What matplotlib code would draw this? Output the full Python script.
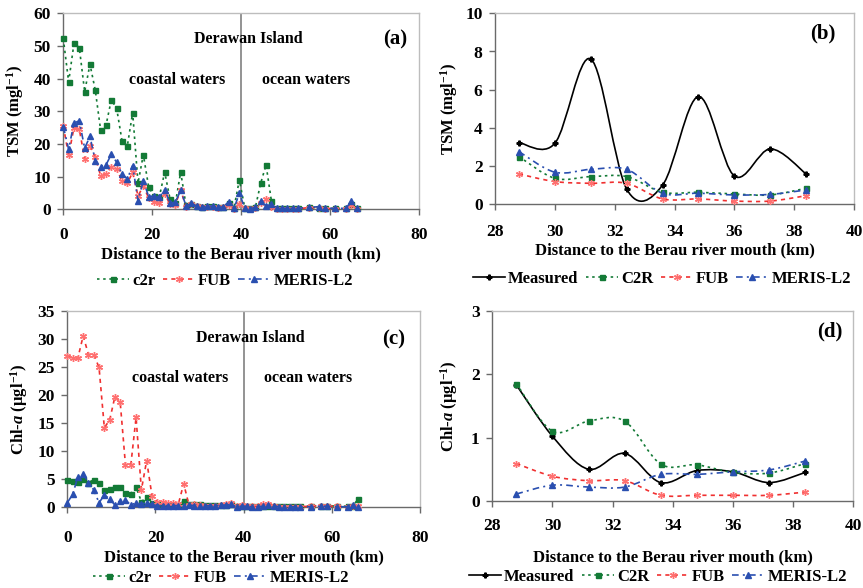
import matplotlib
matplotlib.use("Agg")
import matplotlib.pyplot as plt
from matplotlib.path import Path
from matplotlib.patches import PathPatch
from matplotlib.lines import Line2D

plt.rcParams['font.family'] = ['Liberation Serif', 'DejaVu Serif']
plt.rcParams['font.weight'] = 'bold'
plt.rcParams['mathtext.fontset'] = 'custom'
plt.rcParams['mathtext.rm'] = 'Liberation Serif:bold'
plt.rcParams['mathtext.it'] = 'Liberation Serif:italic:bold'
plt.rcParams['mathtext.bf'] = 'Liberation Serif:bold'

# ---------------- data: transect (panels a, c) ----------------
dist = [0.0, 1.2, 2.4, 3.6, 4.8, 6.0, 7.2, 8.4, 9.6, 10.8, 12.0, 13.2, 14.4, 15.6,
        16.8, 18.0, 19.2, 20.4, 21.6, 22.8, 24.0, 25.2, 26.4, 27.6, 28.8, 30.0,
        31.2, 32.4, 33.6, 34.8, 36.0, 37.2, 38.4, 39.6, 40.8, 42.0, 43.2, 44.4,
        45.6, 46.8, 48.0, 49.2, 50.4, 51.6, 52.8, 55.2, 57.6, 58.8, 61.2, 63.6,
        64.8, 66.0]

tsm_c2r = [52.3, 39.0, 50.8, 49.5, 36.0, 44.4, 36.4, 24.2, 25.7, 33.5, 30.9, 21.0,
           19.4, 29.6, 8.0, 16.7, 6.8, 4.0, 3.8, 11.4, 3.2, 1.8, 11.4, 1.2, 1.5,
           1.0, 0.8, 0.9, 1.0, 0.7, 0.8, 1.8, 0.5, 9.0, 0.5, 0.3, 0.6, 8.0, 13.6,
           2.6, 0.3, 0.3, 0.3, 0.3, 0.3, 0.6, 0.5, 0.3, 0.3, 0.3, 1.5, 0.3]
tsm_fub = [25.5, 16.5, 25.0, 24.5, 15.5, 19.5, 15.9, 10.3, 10.8, 13.0, 12.4, 8.7,
           8.0, 11.3, 4.1, 7.1, 3.5, 2.2, 2.0, 4.7, 1.6, 1.4, 5.9, 0.8, 1.5, 1.0,
           0.6, 0.6, 0.8, 0.4, 0.6, 1.4, 0.2, 1.6, 0.3, 0.2, 0.4, 2.0, 3.2, 0.8,
           0.2, 0.2, 0.2, 0.2, 0.2, 0.5, 0.4, 0.2, 0.2, 0.2, 1.3, 0.2]
tsm_meris = [25.3, 18.4, 26.4, 27.1, 18.7, 22.3, 14.8, 13.1, 13.6, 16.8, 14.4, 10.8,
             9.3, 13.4, 2.6, 8.7, 3.9, 4.1, 3.7, 6.0, 1.9, 2.2, 5.8, 1.1, 1.8, 1.0,
             0.8, 1.0, 1.0, 0.6, 0.8, 2.3, 0.3, 4.9, 0.4, 0.2, 0.6, 2.4, 1.1, 1.5,
             0.3, 0.3, 0.3, 0.3, 0.3, 0.6, 0.8, 0.3, 0.3, 0.3, 2.6, 0.3]

chl_c2r = [4.8, 4.6, 4.5, 5.0, 4.4, 4.9, 4.3, 3.1, 3.3, 3.7, 3.7, 2.5, 2.4, 3.6,
           1.0, 1.8, 0.8, 0.5, 0.4, 0.4, 0.4, 0.4, 1.2, 0.5, 0.5, 0.5, 0.4, 0.4,
           0.4, 0.4, 0.4, 0.5, 0.3, 0.3, 0.3, 0.2, 0.2, 0.3, 0.3, 0.3, 0.2, 0.2,
           0.2, 0.2, 0.2, 0.2, 0.3, 0.3, 0.2, 0.2, 0.3, 1.5]
chl_fub = [26.9, 26.6, 26.6, 30.5, 27.2, 27.2, 24.9, 14.2, 15.5, 19.7, 18.7, 7.5,
           7.5, 16.0, 3.1, 8.3, 2.1, 1.0, 0.9, 0.8, 0.7, 0.6, 4.2, 0.4, 0.5, 0.4,
           0.3, 0.3, 0.3, 0.4, 0.5, 0.8, 0.2, 0.4, 0.3, 0.2, 0.2, 0.5, 0.6, 0.3,
           0.1, 0.1, 0.1, 0.1, 0.1, 0.2, 0.3, 0.2, 0.2, 0.1, 0.3, 0.2]
chl_meris = [0.8, 2.3, 5.4, 5.9, 4.4, 3.1, 0.8, 2.2, 1.5, 0.4, 1.2, 1.3, 0.4, 0.8,
             0.6, 0.8, 0.5, 0.3, 0.3, 0.3, 0.3, 0.3, 0.3, 0.4, 0.3, 0.3, 0.3, 0.3,
             0.3, 0.4, 0.4, 0.5, 0.1, 0.2, 0.2, 0.1, 0.1, 0.2, 0.4, 0.3, 0.1, 0.1,
             0.1, 0.1, 0.1, 0.1, 0.2, 0.2, 0.1, 0.1, 0.4, 0.1]

# ---------------- data: stations (panels b, d) ----------------
st_dist = [28.8, 30.0, 31.2, 32.4, 33.6, 34.8, 36.0, 37.2, 38.4]
tsm_meas = [3.23, 3.19, 7.61, 0.80, 1.00, 5.64, 1.48, 2.90, 1.59]
tsm_st_c2r = [2.50, 1.36, 1.45, 1.45, 0.63, 0.63, 0.54, 0.49, 0.84]
tsm_st_fub = [1.59, 1.19, 1.10, 1.10, 0.28, 0.28, 0.17, 0.17, 0.45]
tsm_st_meris = [2.76, 1.68, 1.83, 1.83, 0.58, 0.58, 0.49, 0.52, 0.75]

chl_meas = [1.83, 1.02, 0.50, 0.75, 0.29, 0.48, 0.46, 0.29, 0.45]
chl_st_c2r = [1.85, 1.10, 1.26, 1.26, 0.58, 0.57, 0.45, 0.44, 0.59]
chl_st_fub = [0.59, 0.39, 0.32, 0.32, 0.09, 0.09, 0.09, 0.09, 0.14]
chl_st_meris = [0.11, 0.25, 0.22, 0.22, 0.42, 0.42, 0.46, 0.49, 0.63]

# ---------------- styles ----------------
GREEN = '#137a36'
RED = '#f03030'
BLUE = '#2a4fb0'
STAR = (6, 2, 0)

sty = {
    'c2r': dict(color=GREEN, ls=(0, (1.5, 2.2)), marker='s', ms=3.6, mfc=GREEN, mec=GREEN),
    'fub': dict(color=RED, ls=(0, (2.5, 2.5)), marker=STAR, ms=5, mfc='none', mec='#ff7070', mew=1.0),
    'meris': dict(color=BLUE, ls=(0, (4, 2.5, 1.2, 2.5)), marker='^', ms=4.2, mfc=BLUE, mec=BLUE),
    'meas': dict(color='black', ls='-', marker='P', ms=3.5, mfc='black', mec='black'),
}
LW = 1.2
TICK_FS = 12.5
LAB_FS = 12

fig = plt.figure(figsize=(8.63, 5.88), dpi=100)
W, H = 863.0, 588.0


def add_ax(l, r, t, b):
    return fig.add_axes([l / W, 1 - b / H, (r - l) / W, (b - t) / H])


def style_axes(ax, xpad):
    for s in ['top', 'right']:
        ax.spines[s].set_color('#bdbdbd')
        ax.spines[s].set_linewidth(1.0)
    for s in ['left', 'bottom']:
        ax.spines[s].set_color('#6a6a6a')
        ax.spines[s].set_linewidth(1.0)
    ax.tick_params(direction='out', length=4, width=1.0, color='#6a6a6a',
                   labelsize=TICK_FS, pad=5)
    ax.tick_params(axis='x', pad=xpad)
    for lab in ax.get_xticklabels() + ax.get_yticklabels():
        lab.set_fontweight('bold')


def smooth(ax, xs, ys, color, ls):
    verts = [(xs[0], ys[0])]
    codes = [Path.MOVETO]
    n = len(xs)
    for i in range(n - 1):
        p0 = i - 1 if i > 0 else i
        p3 = i + 2 if i + 2 < n else i + 1
        c1 = (xs[i] + (xs[i + 1] - xs[p0]) / 6.0, ys[i] + (ys[i + 1] - ys[p0]) / 6.0)
        c2 = (xs[i + 1] - (xs[p3] - xs[i]) / 6.0, ys[i + 1] - (ys[p3] - ys[i]) / 6.0)
        verts += [c1, c2, (xs[i + 1], ys[i + 1])]
        codes += [Path.CURVE4] * 3
    ax.add_patch(PathPatch(Path(verts, codes), fill=False, edgecolor=color,
                           linestyle=ls, linewidth=LW, zorder=2))


def handle(key):
    s = sty[key]
    return Line2D([], [], color=s['color'], ls=s['ls'], lw=LW, marker=s['marker'],
                  ms=s['ms'], mfc=s['mfc'], mec=s['mec'], mew=s.get('mew', 1.0))


def transect(ax, yc2r, yfub, ymeris, ymax, ystep, txt_y, coast_y, xpad):
    for key, ys in [('c2r', yc2r), ('fub', yfub), ('meris', ymeris)]:
        s = sty[key]
        ax.plot(dist, ys, color=s['color'], ls=s['ls'], lw=LW, marker=s['marker'],
                ms=s['ms'], mfc=s['mfc'], mec=s['mec'], mew=s.get('mew', 1.0),
                clip_on=False, zorder=3)
    ax.axvline(40, color='#808080', lw=1.2, zorder=1)
    ax.set_xlim(0, 80)
    ax.set_ylim(0, ymax)
    ax.set_xticks([0, 20, 40, 60, 80])
    ax.set_yticks(list(range(0, ymax + 1, ystep)))
    ax.text(41.5, txt_y, 'Derawan Island', ha='center', va='center', fontsize=11.5, fontweight='bold')
    ax.text(25.5, coast_y, 'coastal waters', ha='center', va='center', fontsize=11.5, fontweight='bold')
    ax.text(54.6, coast_y, 'ocean waters', ha='center', va='center', fontsize=11.5, fontweight='bold')
    style_axes(ax, xpad)


def stations(ax, meas, yc2r, yfub, ymeris, ymax, ystep, xpad):
    for key, ys in [('meas', meas), ('c2r', yc2r), ('fub', yfub), ('meris', ymeris)]:
        s = sty[key]
        smooth(ax, st_dist, ys, s['color'], s['ls'])
        ax.plot(st_dist, ys, ls='none', marker=s['marker'], ms=s['ms'], mfc=s['mfc'],
                mec=s['mec'], mew=s.get('mew', 1.0), zorder=3)
    ax.set_xlim(28, 40)
    ax.set_ylim(0, ymax)
    ax.set_xticks(list(range(28, 41, 2)))
    ax.set_yticks(list(range(0, ymax + 1, ystep)))
    style_axes(ax, xpad)


# (a)
axa = add_ax(63.3, 419, 13.3, 209.3)
transect(axa, tsm_c2r, tsm_fub, tsm_meris, 60, 10, 52, 39.5, 9)
axa.set_ylabel('TSM (mgl$^{-1}$)', fontsize=LAB_FS, fontweight='bold', labelpad=5)
axa.set_xlabel('Distance to the Berau river mouth (km)', fontsize=LAB_FS, fontweight='bold', labelpad=2)
axa.text(0.933, 0.864, '(a)', transform=axa.transAxes, ha='center', va='center', fontsize=15, fontweight='bold')

# (b)
axb = add_ax(495, 854, 13.3, 204.3)
stations(axb, tsm_meas, tsm_st_c2r, tsm_st_fub, tsm_st_meris, 10, 2, 10)
axb.set_ylabel('TSM (mgl$^{-1}$)', fontsize=LAB_FS, fontweight='bold', labelpad=4)
axb.set_xlabel('Distance to the Berau river mouth (km)', fontsize=LAB_FS, fontweight='bold', labelpad=2)
axb.text(0.913, 0.895, '(b)', transform=axb.transAxes, ha='center', va='center', fontsize=15, fontweight='bold')

# (c)
axc = add_ax(67.3, 420, 310.7, 507.3)
transect(axc, chl_c2r, chl_fub, chl_meris, 35, 5, 30.1, 23.1, 12)
axc.set_ylabel('Chl-$\\mathit{a}$ (µgl$^{-1}$)', fontsize=LAB_FS, fontweight='bold', labelpad=5)
axc.set_xlabel('Distance to the Berau river mouth (km)', fontsize=LAB_FS, fontweight='bold', labelpad=3)
axc.text(0.926, 0.855, '(c)', transform=axc.transAxes, ha='center', va='center', fontsize=15, fontweight='bold')

# (d)
axd = add_ax(492.3, 853.3, 310.7, 501)
stations(axd, chl_meas, chl_st_c2r, chl_st_fub, chl_st_meris, 3, 1, 8)
axd.set_ylabel('Chl-$\\mathit{a}$ (µgl$^{-1}$)', fontsize=LAB_FS, fontweight='bold', labelpad=8)
axd.set_xlabel('Distance to the Berau river mouth (km)', fontsize=LAB_FS, fontweight='bold', labelpad=11)
axd.text(0.935, 0.89, '(d)', transform=axd.transAxes, ha='center', va='center', fontsize=15, fontweight='bold')

# legends
leg_kw = dict(loc='center', frameon=False, fontsize=12, handlelength=1.9,
              columnspacing=0.45, handletextpad=0.2, borderpad=0)
fig.legend([handle('c2r'), handle('fub'), handle('meris')], ['c2r', 'FUB', 'MERIS-L2'],
           bbox_to_anchor=(225 / W, 1 - 281 / H), ncol=3, **leg_kw)
fig.legend([handle('meas'), handle('c2r'), handle('fub'), handle('meris')],
           ['Measured', 'C2R', 'FUB', 'MERIS-L2'],
           bbox_to_anchor=(662 / W, 1 - 279 / H), ncol=4, **leg_kw)
fig.legend([handle('c2r'), handle('fub'), handle('meris')], ['c2r', 'FUB', 'MERIS-L2'],
           bbox_to_anchor=(221 / W, 1 - 578 / H), ncol=3, **leg_kw)
fig.legend([handle('meas'), handle('c2r'), handle('fub'), handle('meris')],
           ['Measured', 'C2R', 'FUB', 'MERIS-L2'],
           bbox_to_anchor=(658 / W, 1 - 577 / H), ncol=4, **leg_kw)

fig.savefig('out.png', dpi=100)
